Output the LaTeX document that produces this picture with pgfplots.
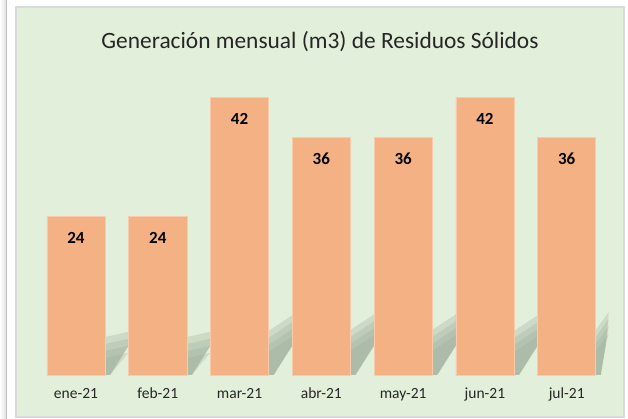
\documentclass[border=0pt]{standalone}
\usepackage{fontspec}
\setmainfont{Carlito}
\usepackage{pgfplots}
\pgfplotsset{compat=1.18}
\definecolor{bg}{HTML}{E2EFDA}
\definecolor{barc}{HTML}{F4B183}
\definecolor{barl}{HTML}{F8CBAD}
\definecolor{shdk}{HTML}{9EAF9B}
\definecolor{frame}{HTML}{D9D9D9}
\definecolor{txt}{HTML}{262626}
% one shadow layer: #1 centre, #2 top at bar edge (px), #3 top at far edge (px), #4 drop (px), #5 width (px)
\newcommand\shq[5]{%
  \fill[shdk, fill opacity=0.3] (axis cs:{#1+0.2},0) -- (axis cs:{#1+0.355+5*0.01222},0)
   -- (axis cs:{#1+0.355+(#5-3)*0.01222},{min(30,#3-#4)*0.1515})
   -- (axis cs:{#1+0.355+#5*0.01222},{(#3-#4)*0.1515})
   -- (axis cs:{#1+0.355},{(#2-#4)*0.1515})
   -- (axis cs:{#1+0.2},{(#2-#4)*0.1515}) -- cycle;}
\newcommand\bshd[4]{\shq{#1}{#2}{#3}{0}{#4}\shq{#1}{#2}{#3}{7}{#4}\shq{#1}{#2}{#3}{14}{#4}\shq{#1}{#2}{#3}{21}{#4}}
\pgfplotstableread{
x v
0 24
1 24
2 42
3 36
4 36
5 42
6 36
}\datatable
\begin{document}
\begin{tikzpicture}[x=1pt,y=1pt]
\useasboundingbox (0,0) rectangle (628,419);
\fill[white] (0,0) rectangle (628,419);
\shade[left color=white, right color=black!12] (0,0) rectangle (6,419);
\draw[black!25, line width=1pt] (6.5,0) -- (6.5,419);
\fill[bg] (16,2) rectangle (624,412);
\draw[frame, line width=1.5pt] (16,2) rectangle (624,412);
\node[txt, font=\fontsize{23.4}{28}\selectfont] at (320,377) {Generación mensual (m3) de Residuos Sólidos};
\begin{axis}[
  at={(35.1pt,44pt)}, anchor=south west,
  scale only axis, width=572.5pt, height=330pt,
  xmin=-0.5, xmax=6.5, ymin=0, ymax=50,
  axis line style={draw=none},
  ytick=\empty,
  xtick={0,...,6},
  xticklabels={ene-21,feb-21,mar-21,abr-21,may-21,jun-21,jul-21},
  major tick length=0pt,
  xticklabel style={font=\fontsize{15.5}{18}\selectfont, text=txt, text height=11pt, text depth=3pt, yshift=-9pt},
  /pgf/number format/assume math mode=true,
  nodes near coords,
  every node near coord/.append style={font=\fontsize{17}{20}\selectfont\bfseries, text=black, anchor=center, yshift=-21pt},
  clip=false,
]
\bshd{0}{38}{44}{27}
\bshd{1}{38}{44}{27}
\bshd{2}{44}{62}{27}
\bshd{3}{45}{63}{27}
\bshd{4}{45}{63}{27}
\bshd{5}{44}{62}{27}
\bshd{6}{45}{63}{13}
\addplot[ybar, bar width=0.71, fill=barc, draw=barl, line width=0.6pt] table[x=x, y=v] {\datatable};
\end{axis}
\end{tikzpicture}
\end{document}
